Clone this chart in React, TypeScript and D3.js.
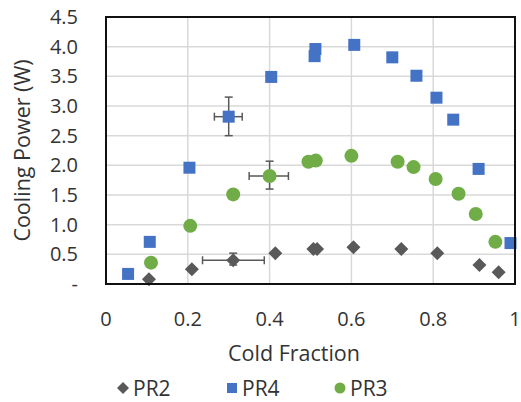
import React from "react";
import * as d3 from "d3";

// cold fraction / cooling power (W)
const pr2X = [0.105, 0.21, 0.311, 0.414, 0.507, 0.516, 0.605, 0.722, 0.81, 0.913, 0.96];
const pr2Y = [0.08, 0.25, 0.4, 0.52, 0.59, 0.59, 0.62, 0.59, 0.52, 0.32, 0.2];
const pr4X = [0.054, 0.107, 0.204, 0.3, 0.404, 0.512, 0.51, 0.607, 0.7, 0.759, 0.808, 0.849, 0.911, 0.989];
const pr4Y = [0.17, 0.71, 1.96, 2.82, 3.49, 3.96, 3.84, 4.03, 3.82, 3.51, 3.14, 2.77, 1.94, 0.69];
const pr3X = [0.11, 0.206, 0.311, 0.4, 0.495, 0.513, 0.6, 0.713, 0.752, 0.806, 0.862, 0.904, 0.952];
const pr3Y = [0.36, 0.98, 1.51, 1.82, 2.06, 2.08, 2.16, 2.06, 1.97, 1.77, 1.52, 1.18, 0.71];

// error bars: [x, y, xLow, xHigh, yLow, yHigh]
const errorBars = [
  [0.311, 0.4, 0.236, 0.387, 0.32, 0.52],
  [0.3, 2.82, 0.265, 0.333, 2.5, 3.15],
  [0.4, 1.82, 0.35, 0.446, 1.6, 2.07],
];

const xTicks = [0, 0.2, 0.4, 0.6, 0.8, 1];
const yTicks = [0, 0.5, 1, 1.5, 2, 2.5, 3, 3.5, 4, 4.5];
const legendNames = ["PR2", "PR4", "PR3"];

const W = 521;
const H = 402;
const margin = { top: 17, right: 6, bottom: 118, left: 106 };
const font = "'Open Sans', 'Noto Sans', sans-serif";
const textColor = "#333";
const gray = "#595959";
const blue = "#4472C4";
const green = "#70AD47";

const App = () => {
  const x = d3.scaleLinear().domain([0, 1]).range([margin.left, W - margin.right]);
  const y = d3.scaleLinear().domain([0, 4.5]).range([H - margin.bottom, margin.top]);

  const diamond = (cx: number, cy: number, r: number, key: string | number) => (
    <path
      key={key}
      d={`M${cx},${cy - r}L${cx + r},${cy}L${cx},${cy + r}L${cx - r},${cy}Z`}
      fill={gray}
    />
  );
  const square = (cx: number, cy: number, s: number, key: string | number) => (
    <rect key={key} x={cx - s / 2} y={cy - s / 2} width={s} height={s} fill={blue} />
  );
  const circle = (cx: number, cy: number, r: number, key: string | number) => (
    <circle key={key} cx={cx} cy={cy} r={r} fill={green} />
  );

  const cap = 4;
  const legendX = [123, 232, 340];
  const legendY = 388;

  return (
    <svg width={W} height={H} style={{ position: "absolute", left: 0, top: 0, background: "#fff" }}>
      {/* grid */}
      {yTicks.slice(1).map((t) => (
        <line key={"gy" + t} x1={x(0)} x2={x(1)} y1={y(t)} y2={y(t)} stroke="#d9d9d9" strokeWidth={1.5} />
      ))}
      {xTicks.slice(1, -1).map((t) => (
        <line key={"gx" + t} x1={x(t)} x2={x(t)} y1={y(0)} y2={y(4.5)} stroke="#d9d9d9" strokeWidth={1.5} />
      ))}

      {/* error bars */}
      {errorBars.map(([cx, cy, xl, xh, yl, yh], i) => (
        <g key={"eb" + i} stroke={gray} strokeWidth={1.5} fill="none">
          <line x1={x(xl)} x2={x(xh)} y1={y(cy)} y2={y(cy)} />
          <line x1={x(xl)} x2={x(xl)} y1={y(cy) - cap} y2={y(cy) + cap} />
          <line x1={x(xh)} x2={x(xh)} y1={y(cy) - cap} y2={y(cy) + cap} />
          <line x1={x(cx)} x2={x(cx)} y1={y(yl)} y2={y(yh)} />
          <line x1={x(cx) - cap} x2={x(cx) + cap} y1={y(yl)} y2={y(yl)} />
          <line x1={x(cx) - cap} x2={x(cx) + cap} y1={y(yh)} y2={y(yh)} />
        </g>
      ))}

      {/* series */}
      {pr2X.map((v, i) => diamond(x(v), y(pr2Y[i]), 7, "d" + i))}
      {pr4X.map((v, i) => square(x(v), y(pr4Y[i]), 12, "s" + i))}
      {pr3X.map((v, i) => circle(x(v), y(pr3Y[i]), 7, "c" + i))}

      {/* frame */}
      <rect
        x={x(0)}
        y={y(4.5)}
        width={x(1) - x(0)}
        height={y(0) - y(4.5)}
        fill="none"
        stroke="#111"
        strokeWidth={2}
      />

      {/* y ticks */}
      {yTicks.map((t) => (
        <text
          key={"yt" + t}
          x={78}
          y={y(t)}
          dy="0.35em"
          textAnchor="end"
          fontFamily={font}
          fontSize={20}
          fill={textColor}
        >
          {t === 0 ? "-" : d3.format(".1f")(t)}
        </text>
      ))}
      {/* x ticks */}
      {xTicks.map((t) => (
        <text
          key={"xt" + t}
          x={x(t)}
          y={326}
          textAnchor="middle"
          fontFamily={font}
          fontSize={20}
          fill={textColor}
        >
          {t === 0 || t === 1 ? String(t) : d3.format(".1f")(t)}
        </text>
      ))}

      {/* axis titles */}
      <text x={294} y={361} textAnchor="middle" fontFamily={font} fontSize={21.5} fill={textColor}>
        Cold Fraction
      </text>
      <text
        transform={`translate(30,${(y(0) + y(4.5)) / 2}) rotate(-90)`}
        textAnchor="middle"
        fontFamily={font}
        fontSize={21.5}
        fill={textColor}
      >
        Cooling Power (W)
      </text>

      {/* legend */}
      {diamond(legendX[0], legendY, 6, "ld")}
      {square(legendX[1], legendY, 10, "ls")}
      {circle(legendX[2], legendY, 5.5, "lc")}
      {legendNames.map((n, i) => (
        <text key={n} x={legendX[i] + 10} y={legendY + 8} fontFamily={font} fontSize={21} fill={textColor}>
          {n}
        </text>
      ))}
    </svg>
  );
};

export default App;
